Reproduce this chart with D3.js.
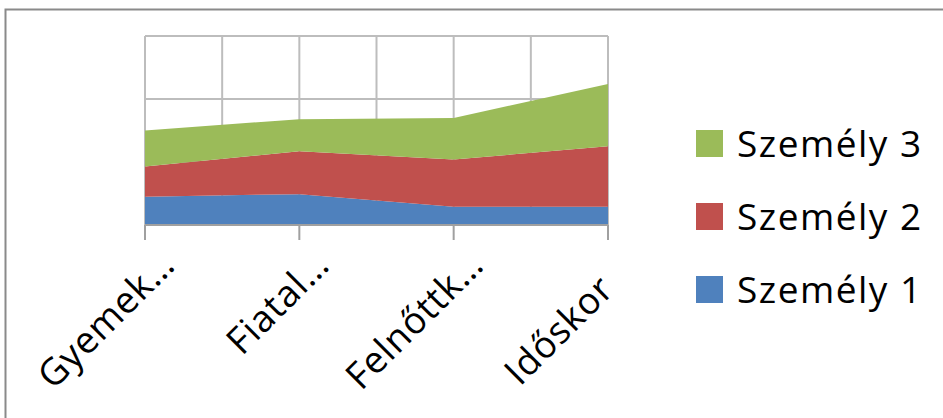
<!DOCTYPE html>
<html>
<head>
<meta charset="utf-8">
<script src="https://cdn.jsdelivr.net/npm/d3@7"></script>
<style>
  html, body { margin: 0; padding: 0; background: #fff; }
  svg { display: block; }
  text { font-family: "Open Sans", "Noto Sans", sans-serif; fill: #000; }
</style>
</head>
<body>
<svg id="chart" width="943" height="418"></svg>
<script>
// Age groups (as shown on the axis) and the three stacked series
const categories = ["Gyemek…", "Fiatal…", "Felnőttk…", "Időskor"];
const seriesNames = ["Személy 1", "Személy 2", "Személy 3"];
const szemely1 = [4.5, 4.9, 2.9, 2.9];
const szemely2 = [4.8, 6.8, 7.5, 9.6];
const szemely3 = [5.7, 5.1, 6.6, 9.9];
const yTicks = [0, 10, 20, 30];
const colors = ["#4F81BD", "#C0504D", "#9BBB59"];

const svg = d3.select("#chart");
const W = 943, H = 418;
const plot = { left: 145, right: 608, top: 36, bottom: 225 };

// chart frame
svg.append("rect")
  .attr("x", 5.5).attr("y", 9.5)
  .attr("width", W).attr("height", H)
  .attr("fill", "#fff").attr("stroke", "#8a8a8a").attr("stroke-width", 2);

const table = categories.map((c, i) => ({
  cat: c,
  "Személy 1": szemely1[i],
  "Személy 2": szemely2[i],
  "Személy 3": szemely3[i]
}));

const stack = d3.stack().keys(seriesNames);
const layers = stack(table);

const x = d3.scaleLinear().domain([0, categories.length - 1]).range([plot.left, plot.right]);
const y = d3.scaleLinear().domain([0, d3.max(yTicks)]).range([plot.bottom, plot.top]);

// gridlines: horizontal at value ticks, vertical at categories and halfway between
const grid = svg.append("g").attr("stroke", "#bdbdbd").attr("stroke-width", 2);
grid.selectAll("line.h").data(yTicks).join("line")
  .attr("class", "h")
  .attr("x1", plot.left).attr("x2", plot.right)
  .attr("y1", d => y(d)).attr("y2", d => y(d));
const vSteps = d3.range(0, (categories.length - 1) * 2 + 1).map(k => k / 2);
grid.selectAll("line.v").data(vSteps).join("line")
  .attr("class", "v")
  .attr("x1", d => x(d)).attr("x2", d => x(d))
  .attr("y1", plot.top).attr("y2", plot.bottom);

// stacked areas
const area = d3.area()
  .x((d, i) => x(i))
  .y0(d => y(d[0]))
  .y1(d => y(d[1]));

svg.append("g").selectAll("path").data(layers).join("path")
  .attr("d", area)
  .attr("fill", (d, i) => colors[i]);

// category axis
const axisG = svg.append("g").attr("transform", `translate(0,${plot.bottom})`);
axisG.append("line")
  .attr("x1", plot.left).attr("x2", plot.right)
  .attr("y1", 0).attr("y2", 0)
  .attr("stroke", "#a0a0a0").attr("stroke-width", 2);
axisG.selectAll("line.tick").data(categories).join("line")
  .attr("class", "tick")
  .attr("x1", (d, i) => x(i)).attr("x2", (d, i) => x(i))
  .attr("y1", 0).attr("y2", 15)
  .attr("stroke", "#a0a0a0").attr("stroke-width", 2);

// rotated labels: truncated ones end at the slot end, complete ones sit centred in the slot
const slotLen = 204;
const endDx = 32, endDy = 42;
const dir = [Math.SQRT1_2, -Math.SQRT1_2];
axisG.selectAll("text").data(categories).join("text")
  .attr("font-size", 37)
  .attr("letter-spacing", 0.8)
  .attr("text-anchor", d => d.endsWith("…") ? "end" : "middle")
  .attr("transform", (d, i) => {
    let px = x(i) + endDx, py = endDy;
    if (!d.endsWith("…")) { px -= dir[0] * slotLen / 2; py -= dir[1] * slotLen / 2; }
    return `translate(${px},${py}) rotate(-45)`;
  })
  .text(d => d);

// legend, top entry is the last series
const legend = svg.append("g").attr("transform", "translate(696,130)");
const items = seriesNames.map((n, i) => ({ name: n, color: colors[i] })).reverse();
const li = legend.selectAll("g").data(items).join("g")
  .attr("transform", (d, i) => `translate(0,${i * 73})`);
li.append("rect").attr("width", 27).attr("height", 27).attr("fill", d => d.color);
li.append("text")
  .attr("x", 41).attr("y", 27)
  .attr("font-size", 37)
  .attr("letter-spacing", 1.5)
  .text(d => d.name);
</script>
</body>
</html>
